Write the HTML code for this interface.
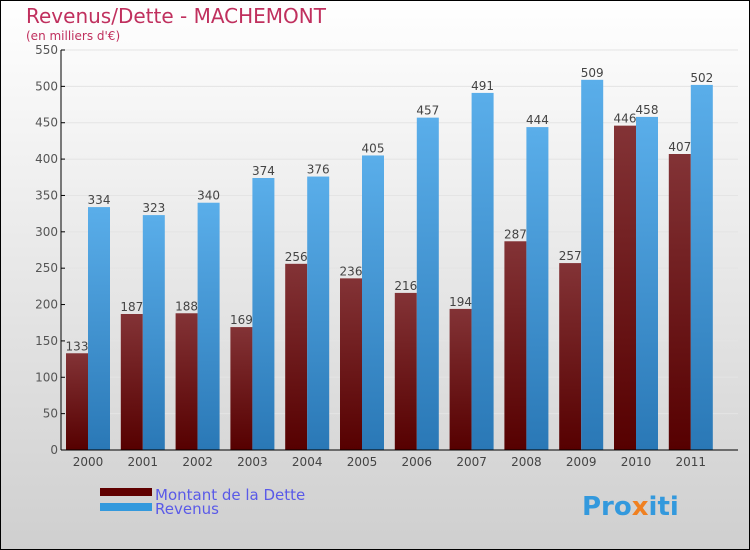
<!DOCTYPE html>
<html><head><meta charset="utf-8"><style>
body{margin:0;}
#c{width:750px;height:550px;position:relative;overflow:hidden;font-family:"DejaVu Sans","Liberation Sans",sans-serif;}
</style></head><body>
<div id="c">
<svg id="s" width="750" height="550" xmlns="http://www.w3.org/2000/svg">
<defs>
<linearGradient id="bg" x1="0" y1="0" x2="0" y2="1"><stop offset="0" stop-color="#ffffff"/><stop offset="1" stop-color="#cfcfcf"/></linearGradient>
<linearGradient id="gd" x1="0" y1="0" x2="0" y2="1"><stop offset="0" stop-color="#833336"/><stop offset="1" stop-color="#560000"/></linearGradient>
<linearGradient id="gr" x1="0" y1="0" x2="0" y2="1"><stop offset="0" stop-color="#5aaeea"/><stop offset="1" stop-color="#2a78b6"/></linearGradient>
</defs>
<rect x="0.5" y="0.5" width="749" height="549" fill="url(#bg)" stroke="#000"/>
<text x="26" y="23" font-size="20" fill="#c0305e">Revenus/Dette - MACHEMONT</text>
<text x="26" y="40" font-size="12" fill="#c0305e">(en milliers d'€)</text>
<g id="plot"></g>
<rect x="100" y="488" width="52" height="8" fill="#600000"/>
<text x="155" y="500" font-size="15" fill="#5a5ae8">Montant de la Dette</text>
<rect x="100" y="503" width="52" height="8" fill="#3399dd"/>
<text x="155" y="514" font-size="15" fill="#5a5ae8">Revenus</text>
<text x="582" y="515" font-size="26" font-weight="bold" fill="#3399dd">Pro<tspan fill="#f08020">x</tspan>iti</text>
</svg>
</div>
<script>
const years=["2000","2001","2002","2003","2004","2005","2006","2007","2008","2009","2010","2011"];
const dette=[133,187,188,169,256,236,216,194,287,257,446,407];
const revenus=[334,323,340,374,376,405,457,491,444,509,458,502];
const yTicks=[0,50,100,150,200,250,300,350,400,450,500,550];
const NS="http://www.w3.org/2000/svg";
const g=document.getElementById('plot');
const x0=61,yBase=450,yTop=50,yMax=550,slot=54.8,bw=22;
const y=v=>yBase-(v/yMax)*(yBase-yTop);
const cx=i=>88+i*slot;
function mk(t,a,txt){const e=document.createElementNS(NS,t);for(const k in a)e.setAttribute(k,a[k]);if(txt!==undefined)e.textContent=txt;g.appendChild(e);return e;}
yTicks.forEach(v=>{
 const l=mk('line',{x1:x0,x2:738,y1:y(v),y2:y(v),stroke:'#e4e4e4','stroke-width':1});
 
 
 const t=mk('line',{x1:x0,x2:x0+4,y1:y(v),y2:y(v),stroke:'#000'});
 
 
 const tx=mk('text',{x:x0-3,y:y(v)+4,'text-anchor':'end','font-size':12,fill:'#555'},String(v));
 
 
});
years.forEach((yr,i)=>{
 const c=cx(i);
 const b1=mk('rect',{x:c-bw,y:y(dette[i]),width:bw,height:yBase-y(dette[i]),fill:'url(#gd)'});
 
 
 const b2=mk('rect',{x:c,y:y(revenus[i]),width:bw,height:yBase-y(revenus[i]),fill:'url(#gr)'});
 
 
 const l1=mk('text',{x:c-bw/2,y:y(dette[i])-3,'text-anchor':'middle','font-size':12,fill:'#444'},String(dette[i]));
 
 
 const l2=mk('text',{x:c+bw/2,y:y(revenus[i])-3,'text-anchor':'middle','font-size':12,fill:'#444'},String(revenus[i]));
 
 
 const xl=mk('text',{x:c,y:466,'text-anchor':'middle','font-size':12,fill:'#444'},yr);
 
 
});
const ax=mk('line',{x1:x0,x2:x0,y1:yTop,y2:yBase,stroke:'#000'});


const axx=mk('line',{x1:x0,x2:738,y1:yBase,y2:yBase,stroke:'#000'});


</script>
</body></html>
